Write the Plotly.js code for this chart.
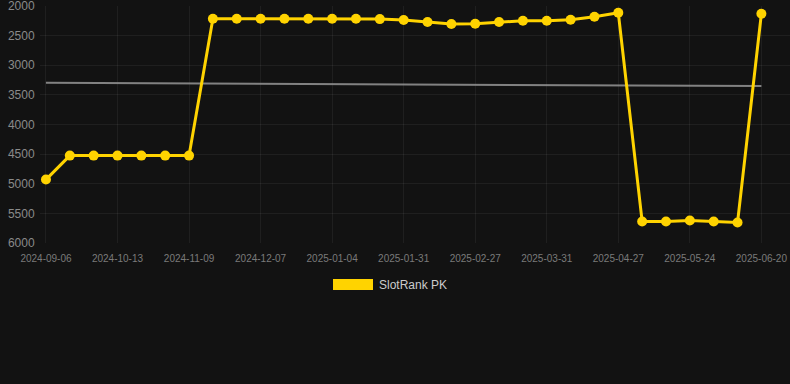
<!DOCTYPE html>
<html>
<head>
<meta charset="utf-8">
<script src="https://cdn.plot.ly/plotly-3.0.1.min.js"></script>
<style>
  html, body { margin: 0; padding: 0; background: #121212; }
  #chart { width: 790px; height: 384px; }
</style>
</head>
<body>
<div id="chart"></div>
<script>
const dates = [
  "2024-09-06", "2024-09-18", "2024-10-01", "2024-10-13", "2024-10-22", "2024-10-31",
  "2024-11-09", "2024-11-18", "2024-11-27", "2024-12-07", "2024-12-16", "2024-12-25",
  "2025-01-04", "2025-01-13", "2025-01-22", "2025-01-31", "2025-02-09", "2025-02-18",
  "2025-02-27", "2025-03-09", "2025-03-20", "2025-03-31", "2025-04-09", "2025-04-18",
  "2025-04-27", "2025-05-06", "2025-05-15", "2025-05-24", "2025-06-02", "2025-06-11",
  "2025-06-20"
];
const rankPK = [
  4930, 4525, 4525, 4525, 4525, 4525,
  4525, 2215, 2215, 2215, 2215, 2215,
  2215, 2215, 2220, 2236, 2270, 2304,
  2300, 2270, 2248, 2248, 2231, 2180,
  2113, 5637, 5637, 5620, 5637, 5654,
  2130
];
const trendDates = ["2024-09-06", "2025-06-20"];
const trendValues = [3296, 3350];
const tickLabels = [
  "2024-09-06", "2024-10-13", "2024-11-09", "2024-12-07", "2025-01-04", "2025-01-31",
  "2025-02-27", "2025-03-31", "2025-04-27", "2025-05-24", "2025-06-20"
];
const yTicks = [2000, 2500, 3000, 3500, 4000, 4500, 5000, 5500, 6000];
const seriesName = "SlotRank PK";

const traces = [
  {
    x: trendDates, y: trendValues, type: "scatter", mode: "lines",
    line: { color: "rgba(150,150,150,0.85)", width: 2 },
    hoverinfo: "skip", showlegend: false
  },
  {
    x: dates, y: rankPK, type: "scatter", mode: "lines+markers",
    name: seriesName,
    line: { color: "#FFD300", width: 3 },
    marker: { color: "#FFD300", size: 10 },
    showlegend: false
  }
];

const layout = {
  width: 790, height: 384,
  paper_bgcolor: "#121212", plot_bgcolor: "#121212",
  margin: { l: 40, r: 0, t: 6, b: 141 },
  font: { family: "Liberation Sans, Arial, sans-serif", color: "#888" },
  showlegend: false,
  xaxis: {
    type: "category",
    categoryorder: "array", categoryarray: dates,
    range: [-0.25, 31.2],
    tickmode: "array", tickvals: tickLabels, ticktext: tickLabels,
    tickfont: { size: 10, color: "#7a7a7a" },
    ticks: "outside", ticklen: 6, tickcolor: "rgba(0,0,0,0)",
    showgrid: true, gridcolor: "rgba(255,255,255,0.06)", gridwidth: 1,
    zeroline: false, showline: false, fixedrange: true
  },
  yaxis: {
    range: [6001, 1999],
    tickmode: "array", tickvals: yTicks,
    ticklabeloverflow: "allow",
    tickfont: { size: 12, color: "#8a8a8a" },
    ticks: "outside", ticklen: 2, tickcolor: "rgba(0,0,0,0)",
    showgrid: true, gridcolor: "rgba(255,255,255,0.06)", gridwidth: 1,
    zeroline: false, showline: false, fixedrange: true
  },
  shapes: [
    {
      type: "rect", xref: "paper", yref: "paper",
      x0: (333 - 40) / 750, x1: (373 - 40) / 750,
      y0: (243 - 290) / 237, y1: (243 - 279) / 237,
      fillcolor: "#FFD300", line: { width: 0 }
    }
  ],
  annotations: [
    {
      text: seriesName, xref: "paper", yref: "paper",
      x: (377 - 40) / 750, y: (243 - 284.5) / 237,
      xanchor: "left", yanchor: "middle", showarrow: false,
      font: { size: 12, color: "#cccccc", family: "Liberation Sans, Arial, sans-serif" }
    }
  ]
};

Plotly.newPlot("chart", traces, layout, { displayModeBar: false, staticPlot: true });
</script>
</body>
</html>
